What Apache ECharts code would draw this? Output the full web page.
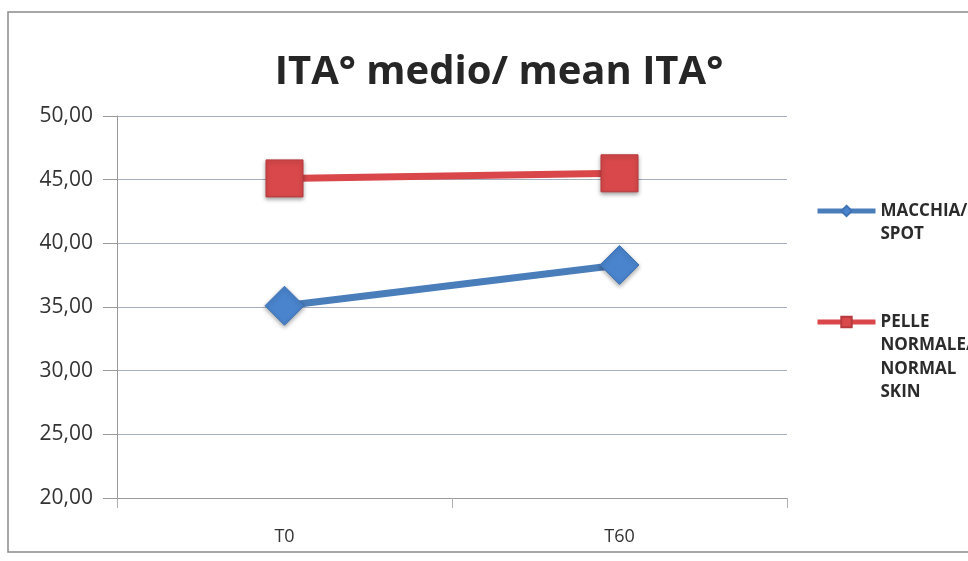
<!DOCTYPE html>
<html>
<head>
<meta charset="utf-8">
<style>
  html, body { margin: 0; padding: 0; background: #fff; }
  #chart { width: 968px; height: 561px; }
</style>
<script src="https://cdn.jsdelivr.net/npm/echarts@6/dist/echarts.min.js"></script>
</head>
<body>
<div id="chart"></div>
<script>
// Time points and mean ITA° values per skin area
const categories = ['T0', 'T60'];
const spotValues = [35.1, 38.3];
const normalSkinValues = [45.1, 45.5];
const spotName = 'MACCHIA/\nSPOT';
const normalName = 'PELLE\nNORMALE/\nNORMAL\nSKIN';

const LINE_H = 23.5;

// One legend block per series; blank leading lines push the wrapped label
// down so its first line sits level with the legend icon.
function legendBlock(name, iconY) {
  const lines = name.split('\n').length;
  const height = LINE_H * (2 * lines - 1);
  return {
    orient: 'vertical',
    left: 815,
    top: iconY - height / 2,
    padding: 0,
    itemWidth: 58,
    itemHeight: 13,
    data: [name],
    lineStyle: { width: 5 },
    formatter: n => '\n'.repeat(lines - 1) + n,
    textStyle: {
      fontFamily: 'Open Sans',
      fontWeight: 'bold',
      fontSize: 17,
      lineHeight: LINE_H,
      color: '#2b2b2b'
    }
  };
}

const chart = echarts.init(document.getElementById('chart'));

chart.setOption({
  animation: false,
  backgroundColor: '#fff',
  title: {
    text: 'ITA° medio/ mean ITA°',
    left: 494,
    textAlign: 'center',
    top: 48,
    textStyle: {
      fontFamily: 'Open Sans',
      fontWeight: 'bold',
      fontSize: 40,
      color: '#262626'
    }
  },
  legend: [
    legendBlock(spotName, 211),
    legendBlock(normalName, 322)
  ],
  graphic: [{
    type: 'rect',
    shape: { x: 8, y: 12, width: 970, height: 540 },
    style: { fill: 'none', stroke: '#8a8a8a', lineWidth: 1.5 },
    z: 0
  }],
  grid: { left: 117, right: 181, top: 116, bottom: 63 },
  xAxis: {
    type: 'category',
    data: categories,
    boundaryGap: true,
    axisLine: { lineStyle: { color: '#9a9a9a', width: 1 } },
    axisTick: { show: true, length: 10, inside: false, lineStyle: { color: '#b0b0b0' } },
    axisLabel: {
      margin: 30,
      fontFamily: 'Open Sans',
      fontSize: 18,
      color: '#333'
    }
  },
  yAxis: {
    type: 'value',
    min: 20,
    max: 50,
    interval: 5,
    axisLine: { show: true, lineStyle: { color: '#9a9a9a', width: 1 } },
    axisTick: { show: true, length: 14, lineStyle: { color: '#9a9a9a' } },
    splitLine: { lineStyle: { color: '#a3afbd', width: 1 } },
    axisLabel: {
      margin: 24,
      fontFamily: 'Open Sans',
      fontSize: 21,
      color: '#333',
      formatter: v => v.toFixed(2).replace('.', ',')
    }
  },
  series: [
    {
      name: spotName,
      type: 'line',
      data: spotValues,
      symbol: 'diamond',
      symbolSize: 39,
      lineStyle: { color: '#4a7ebb', width: 7 },
      itemStyle: {
        color: '#4a84cc',
        borderColor: '#3f73b4',
        borderWidth: 1,
        shadowColor: 'rgba(0,0,0,0.35)',
        shadowBlur: 4,
        shadowOffsetY: 2
      }
    },
    {
      name: normalName,
      type: 'line',
      data: normalSkinValues,
      symbol: 'rect',
      symbolSize: 37,
      lineStyle: { color: '#d9474a', width: 7 },
      itemStyle: {
        color: '#d9494b',
        borderColor: '#b8393c',
        borderWidth: 1,
        shadowColor: 'rgba(0,0,0,0.35)',
        shadowBlur: 4,
        shadowOffsetY: 2
      }
    }
  ]
});
</script>
</body>
</html>
